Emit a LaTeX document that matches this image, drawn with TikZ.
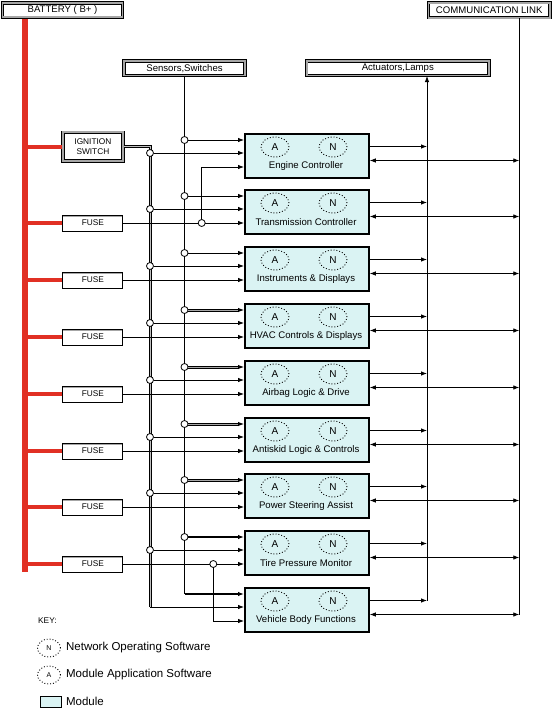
\documentclass[tikz,border=0pt]{standalone}
\usepackage{fontspec}
\setmainfont{Liberation Sans}
\usepackage{xcolor}
\usetikzlibrary{shapes, arrows.meta, calc, positioning}
\definecolor{modcyan}{RGB}{218,243,243}
\definecolor{busred}{RGB}{225,48,36}

\begin{document}
\begin{tikzpicture}[x=1pt, y=-1pt,
    every node/.style = {inner sep=0pt, font=\fontsize{9.6}{11}\selectfont},
    wire/.style = {line width=0.8pt},
    arr/.style = {wire, -{Latex[length=6pt, width=4.5pt]}},
    biarr/.style = {wire, {Latex[length=6pt, width=4.5pt]}-{Latex[length=6pt, width=4.5pt]}},
    dblwire/.style = {line width=1pt, double=gray!50, double distance=1pt},
    dblarr/.style = {dblwire, double=gray!70, -{Latex[length=6pt, width=4.5pt]}},
    fatarr/.style = {line width=2.4pt, -{Latex[length=6pt, width=4.5pt]}},
    redbus/.style = {busred, line width=6pt},
    redwire/.style = {busred, line width=4pt},
    titlebox/.style = {draw, line width=0.9pt, double=gray!70, double distance=1.8pt, fill=white},
    fusebox/.style = {draw, line width=0.9pt, fill=white, minimum width=60pt, minimum height=16pt,
        font=\fontsize{8.3}{10}\selectfont,
        path picture={\fill[gray!70] (path picture bounding box.north west) rectangle ([yshift=-2pt]path picture bounding box.north east);}},
    modbox/.style = {draw, line width=1.8pt, fill=modcyan, minimum width=124pt, minimum height=44pt, anchor=north west},
    soft/.style = {draw, ellipse, dotted, line width=0.9pt, minimum width=28pt, minimum height=20pt, font=\fontsize{10}{12}\selectfont},
    keysoft/.style = {minimum width=23pt, minimum height=18pt, font=\fontsize{7}{8}\selectfont},
    tap/.style = {draw, circle, wire, fill=white, minimum size=7pt}
  ]
    \useasboundingbox (0,0) rectangle (553,708);

    % labelled boxes
    \node[titlebox, minimum width=120pt, minimum height=14.3pt] (bat) at (62.5,10.2) {BATTERY ( B+ )};
    \node[titlebox, minimum width=121.6pt, minimum height=15pt] (link) at (489.2,10.2) {COMMUNICATION LINK};
    \node[titlebox, minimum width=121pt, minimum height=14.6pt] (sens) at (184.5,68.3) {Sensors,Switches};
    \node[titlebox, minimum width=182.3pt, minimum height=14.6pt] (act) at (397.8,68.3) {Actuators,Lamps};
    \node[titlebox, minimum width=60.3pt, minimum height=28.6pt, align=center,
        font=\fontsize{8.3}{10}\selectfont] (ign) at (92.9,146.7) {IGNITION\\SWITCH};

    % modules
    \newcount \myc
    \foreach \n/\name in {1/Engine Controller, 2/Transmission Controller, 3/Instruments \& Displays,
        4/HVAC Controls \& Displays, 5/Airbag Logic \& Drive, 6/Antiskid Logic \& Controls,
        7/Power Steering Assist, 8/Tire Pressure Monitor, 9/Vehicle Body Functions}{
        \myc=\n \advance\myc by -1 \multiply\myc by 568 \divide\myc by 10 \advance\myc by 133
        \node[modbox] (M\n) at (244,\the\myc) {};
        \node[soft] (A\n) at ($(M\n.north west)+(31,14)$) {A};
        \node[soft] (N\n) at ($(M\n.north west)+(89,14)$) {N};
        \node (T\n) at ($(M\n.north west)+(62,33.5)$) {\name};
        \coordinate (ms\n) at ($(M\n.north west)+(0,7)$);
        \coordinate (mi\n) at ($(M\n.north west)+(0,20)$);
        \coordinate (mf\n) at ($(M\n.north west)+(0,34)$);
        \coordinate (mo\n) at ($(M\n.north east)+(0,13.5)$);
        \coordinate (ml\n) at ($(M\n.north east)+(0,27.5)$);
    }

    % buses
    \coordinate (SB) at (ms9 -| sens.south);
    \coordinate (IB) at (mi9 -| 150,0);
    \coordinate (AB) at (mo9 -| 427,0);
    \coordinate (CB) at (ml9 -| 519.3,0);
    \coordinate (R0) at (25,19);
    \coordinate (R1) at (25,572);
    \draw[redbus] (R0) -- (R1);
    \draw[redwire] (ign.west) -- (ign.west -| R0);
    \draw[wire] (sens.south) -- (SB);
    \draw[fatarr] (SB) -- (ms9);
    \draw[dblwire] (ign.east) -| (IB);
    \draw[arr] (IB) -- (mi9);
    \draw[arr] (AB) -- (AB |- act.south);
    \draw[wire] (link.south -| CB) -- (CB);

    % fuses
    \foreach \n in {2,...,8}{
        \node[fusebox] (F\n) at (mf\n -| ign) {FUSE};
        \draw[redwire] (F\n.west) -- (F\n.west -| R0);
        \draw[arr] (F\n) -- (mf\n);
    }

    % taps on sensor and ignition lines
    \foreach \n/\st in {1/arr, 2/arr, 3/arr, 4/dblarr, 5/dblarr, 6/dblarr, 7/dblarr, 8/fatarr}{
        \node[tap] (S\n) at (ms\n -| SB) {};
        \node[tap] (I\n) at (mi\n -| IB) {};
        \draw[\st] (S\n) -- (ms\n);
        \draw[arr] (I\n) -- (mi\n);
    }
    \node[tap] (E1) at (mf2 -| 201.7,0) {};
    \draw[arr] (E1) |- (mf1);
    \node[tap] (E8) at (mf8 -| 213.3,0) {};
    \draw[arr] (E8) |- (mf9);

    % outputs and link
    \foreach \n in {1,...,9}{
        \draw[arr] (mo\n) -- (mo\n -| AB);
        \draw[biarr] (ml\n) -- (ml\n -| CB);
    }

    % key
    \node[anchor=west, font=\fontsize{8.3}{10}\selectfont] (key) at (38,621) {KEY:};
    \node[soft, keysoft] (kN) at (49,648) {N};
    \node[right=5pt of kN, font=\fontsize{11.5}{13}\selectfont] (kNt) {Network Operating Software};
    \node[soft, keysoft] (kA) at (49,675) {A};
    \node[right=5pt of kA, font=\fontsize{11.5}{13}\selectfont] (kAt) {Module Application Software};
    \node[modbox, minimum width=21pt, minimum height=11pt, line width=1.4pt] (kM) at (39.5,695.5) {};
    \node[right=4pt of kM, font=\fontsize{11.5}{13}\selectfont] (kMt) {Module};
\end{tikzpicture}
\end{document}
